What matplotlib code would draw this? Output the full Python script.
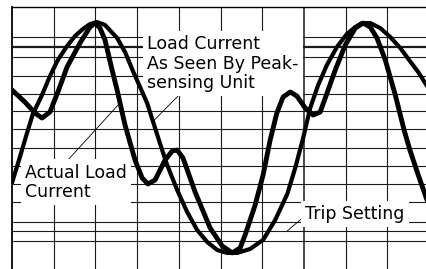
import matplotlib
matplotlib.use("Agg")
import matplotlib.pyplot as plt
import numpy as np

# time in grid divisions, current in % of peak
actual_t = [0.00, 0.31, 0.55, 0.72, 0.91, 1.10, 1.32, 1.63, 1.87, 1.99, 2.11, 2.23,
            2.40, 2.52, 2.71, 2.95, 3.12, 3.26, 3.43, 3.67, 3.84, 3.96, 4.10, 4.39,
            4.75, 5.04, 5.28, 5.47, 5.59, 5.83, 6.02, 6.19, 6.35, 6.50, 6.67, 6.83,
            7.03, 7.22, 7.39, 7.58, 7.75, 7.99, 8.23, 8.42, 8.59, 8.75, 8.95, 9.19,
            9.40, 9.54, 9.74, 9.95]
actual_i = [40.4, 29.8, 20.2, 15.8, 21.1, 38.6, 60.5, 81.6, 95.6, 99.1, 94.7, 84.2,
            57.9, 40.4, 9.6, -21.1, -36.8, -42.1, -38.6, -21.1, -13.2, -12.3, -19.3, -49.1,
            -80.7, -96.5, -102.6, -98.2, -86.8, -60.5, -34.2, -3.5, 20.2, 34.2, 38.6, 35.1,
            24.6, 18.4, 21.1, 40.4, 57.9, 79.8, 94.7, 99.1, 95.6, 86.0, 66.7, 36.0,
            5.3, -12.3, -34.2, -56.1]

sensed_t = [0.00, 0.19, 0.36, 0.50, 0.72, 0.91, 1.10, 1.32, 1.51, 1.70, 1.87, 2.04,
            2.23, 2.52, 2.71, 2.90, 3.07, 3.24, 3.43, 3.60, 3.72, 3.96, 4.20, 4.44,
            4.68, 4.92, 5.16, 5.40, 5.71, 6.02, 6.31, 6.60, 6.79, 6.98, 7.15, 7.34,
            7.55, 7.79, 8.03, 8.23, 8.39, 8.59, 8.83, 9.07, 9.31, 9.54, 9.74, 9.95]
sensed_i = [-41.2, -18.4, 2.6, 19.3, 36.0, 52.6, 66.7, 78.9, 87.7, 93.9, 98.2, 100.0,
            97.4, 86.0, 73.7, 57.0, 43.0, 28.9, 7.0, -12.3, -25.4, -47.4, -66.7, -82.5,
            -93.0, -100.0, -102.6, -102.6, -99.1, -91.2, -73.7, -50.9, -28.1, -1.8, 24.6, 44.7,
            62.3, 78.1, 89.5, 95.6, 99.1, 99.1, 94.7, 86.8, 77.2, 65.8, 56.1, 43.9]

h_levels = [86.8, 78.1, 69.3, 52.6, 36.8, 21.9, 6.1, -10.5, -26.3, -42.1,
            -57.9, -75.4, -83.3, -92.1]
thick_level = 78.1
trip_level = -83.3
v_divs = [1, 2, 3, 4, 5, 6, 7, 8, 9]
thick_div = 7

fig = plt.figure(figsize=(4.27, 2.69), dpi=100)
ax = fig.add_axes([12 / 427, 0, 415 / 427, 262 / 269])
ax.set_xlim(0, 9.95)
ax.set_ylim(-116.7, 113.2)

for lvl in h_levels:
    ax.axhline(lvl, color="#1a1a1a", lw=1.6 if lvl == thick_level else 0.8, zorder=1)
for d in v_divs:
    ax.axvline(d, color="#1a1a1a", lw=1.1 if d == thick_div else 0.8, zorder=1)

ax.plot(sensed_t, sensed_i, color="black", lw=3.0, solid_joinstyle="round",
        solid_capstyle="round", zorder=4)
ax.plot(actual_t, actual_i, color="black", lw=3.5, solid_joinstyle="round",
        solid_capstyle="round", zorder=4)

# multi-line text: y is the baseline of the last line
box = dict(boxstyle="square,pad=0.25", fc="white", ec="none")
txt = dict(fontsize=12.5, family="DejaVu Sans", va="baseline", ha="left",
           linespacing=1.1, bbox=box, zorder=3)
leader = dict(arrowstyle="-", lw=0.6, color="black", shrinkA=0, shrinkB=0)

ax.annotate("Load Current\nAs Seen By Peak-\nsensing Unit",
            xy=(3.38, np.interp(3.38, sensed_t, sensed_i)), xytext=(3.24, 42.1),
            arrowprops=dict(leader, relpos=(0.23, 0.0)), **txt)
ax.annotate("Actual Load\nCurrent",
            xy=(2.59, np.interp(2.59, actual_t, actual_i)), xytext=(0.31, -53.5),
            arrowprops=dict(leader, relpos=(0.39, 1.0)), **txt)
ax.annotate("Trip Setting",
            xy=(6.6, trip_level), xytext=(7.03, -72.8),
            arrowprops=dict(leader, relpos=(0.03, 0.55)), **txt)

ax.set_xticks([])
ax.set_yticks([])
ax.spines["right"].set_visible(False)
ax.spines["bottom"].set_visible(False)
ax.spines["left"].set_linewidth(1.3)
ax.spines["top"].set_linewidth(1.0)

fig.savefig("out.png", dpi=100)
